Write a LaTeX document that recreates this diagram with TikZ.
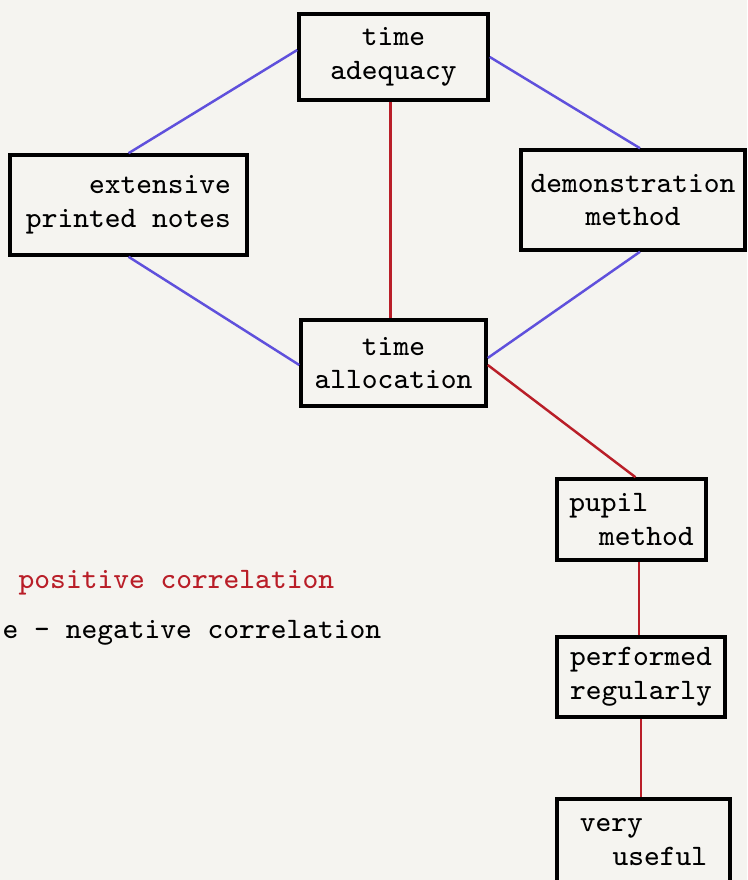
\documentclass[tikz,border=0pt]{standalone}
\definecolor{paper}{RGB}{245,244,240}
\definecolor{poscol}{RGB}{185,30,40}
\definecolor{negcol}{RGB}{95,80,220}
\tikzset{
    box/.style={draw, line width=1pt, font=\ttfamily\fontsize{8.45}{9.6}\selectfont, inner sep=1pt},
    posline/.style={draw=poscol, line width=0.7pt},
    negline/.style={draw=negcol, line width=0.7pt},
}
\begin{document}
\begin{tikzpicture}
    % Paper
    \fill[paper] (0,0) rectangle (7.47,8.80);
    \useasboundingbox (0,0) rectangle (7.47,8.80);

    % Boxes
    \node[box, minimum width=1.89cm, minimum height=0.86cm, align=center] (adequacy) at (3.935,8.23) {time\\adequacy};
    \node[box, minimum width=2.37cm, minimum height=1.00cm, align=right] (notes) at (1.285,6.75) {extensive\\printed notes};
    \node[box, minimum width=2.24cm, minimum height=1.00cm, align=center] (demo) at (6.33,6.80) {demonstration\\method};
    \node[box, minimum width=1.85cm, minimum height=0.86cm, align=center] (allocation) at (3.935,5.17) {time\\allocation};
    \node[box, minimum width=1.49cm, minimum height=0.81cm, align=left] (pupil) at (6.315,3.605) {pupil\\\hspace*{1em}method};
    \node[box, minimum width=1.68cm, minimum height=0.80cm, align=left] (regular) at (6.41,2.03) {performed\\regularly};
    \node[box, minimum width=1.73cm, minimum height=0.86cm, align=left] (useful) at (6.435,0.38) {very\\\hspace*{1.1em}useful};

    % Negative correlations
    \draw[negline] ([yshift=0.07cm]adequacy.west) -- (notes.north);
    \draw[negline] (adequacy.east) -- ([xshift=0.07cm]demo.north);
    \draw[negline] (notes.south) -- ([yshift=-0.02cm]allocation.west);
    \draw[negline] ([xshift=0.07cm]demo.south) -- ([yshift=0.05cm]allocation.east);

    % Positive correlations
    \draw[posline] ([xshift=-0.03cm]adequacy.south) -- ([xshift=-0.03cm]allocation.north);
    \draw[posline] ([yshift=-0.02cm]allocation.east) -- ([xshift=0.04cm]pupil.north);
    \draw[posline] ([xshift=-0.02cm]regular.north) -- ([xshift=-0.02cm]regular.north |- pupil.south);
    \draw[posline] (regular.south) -- (regular.south |- useful.north);

    % Key
    \node[font=\ttfamily\fontsize{8.45}{9.6}\selectfont, text=poscol, anchor=west, inner sep=0pt] (keypos) at (0.18,2.97) {positive correlation};
    \node[font=\ttfamily\fontsize{8.45}{9.6}\selectfont, anchor=west, inner sep=0pt] (keyneg) at (0.02,2.47) {e - negative correlation};
\end{tikzpicture}
\end{document}
